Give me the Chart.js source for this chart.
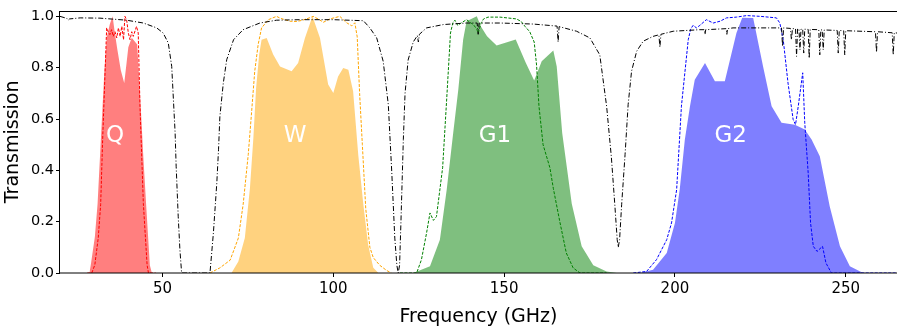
<!DOCTYPE html>
<html>
<head>
<meta charset="utf-8">
<script src="https://cdn.jsdelivr.net/npm/chart.js@4/dist/chart.umd.min.js"></script>
<style>
html,body{margin:0;padding:0;background:#fff;}
#wrap{width:897px;height:328px;}
</style>
</head>
<body>
<div id="wrap"><canvas id="c" width="897" height="328"></canvas></div>
<script>
// ---- data (frequency in GHz, transmission 0..1) ----
const xTicks = [50, 100, 150, 200, 250];
const yTicks = [0, 0.2, 0.4, 0.6, 0.8, 1.0];
const bandNames = ['Q', 'W', 'G1', 'G2'];
const bandLabelFreq = [36.1, 88.8, 147.3, 216.3];
const bandLabelValue = [0.532, 0.532, 0.532, 0.532];

const atmosphere = [
[20,1.0],[22.0,0.992],[22.4,0.985],[22.8,0.99],[25.9,0.994],[31.7,0.993],[39.5,0.985],[44.4,0.974],[48.3,0.955],[50.2,0.935],[51.7,0.896],[52.7,0.805],[53.2,0.675],[53.7,0.545],[54.0,0.416],[54.6,0.221],[55.1,0.09],[55.6,0.0],
[63.9,0.0],[64.9,0.156],[65.9,0.351],[66.4,0.48],[66.8,0.61],[67.8,0.74],[68.8,0.831],[70.8,0.909],[73.6,0.948],[78.5,0.974],[83.4,0.985],[90.2,0.987],[100,0.987],[108.8,0.983],[110.7,0.955],[112.7,0.916],[114.6,0.825],[116.1,0.656],[117.1,0.396],[118.0,0.136],[118.6,0.03],[119.0,0.0],[119.4,0.03],[119.8,0.2],[120.5,0.52],[121.0,0.70],[121.9,0.83],[123.4,0.90],[124.6,0.925],[124.9,0.90],[125.2,0.93],[127.3,0.955],[132.2,0.968],[139.0,0.974],[142.1,0.974],[142.4,0.93],[142.7,0.974],[148.8,0.974],[158.5,0.97],[165.5,0.962],[165.8,0.90],[166.1,0.96],[171.2,0.942],[175.1,0.916],[178.0,0.85],[180.0,0.65],[181.4,0.45],[182.4,0.266],[183.1,0.13],[183.4,0.1],[183.8,0.13],[184.4,0.266],[185.4,0.461],[186.3,0.656],[187.3,0.786],[188.8,0.864],[190.7,0.903],[193.6,0.922],[195.3,0.928],[195.6,0.88],[195.9,0.93],[199.5,0.942],[207.3,0.948],[208.6,0.948],[208.8,0.93],[209.0,0.948],[215.0,0.952],[215.2,0.93],[215.4,0.952],[217.0,0.955],[231.2,0.955],[231.5,0.883],[231.8,0.955],[233.8,0.953],[234.1,0.909],[234.4,0.952],[235.3,0.952],[235.6,0.844],[235.9,0.951],[236.3,0.951],[236.6,0.87],[236.9,0.95],[237.4,0.95],[237.7,0.857],[238.0,0.95],[239.0,0.949],[239.3,0.837],[239.6,0.949],[242.1,0.948],[242.4,0.85],[242.7,0.947],[243.1,0.947],[243.4,0.87],[243.7,0.947],[247.5,0.945],[247.8,0.857],[248.1,0.945],[249.4,0.944],[249.7,0.85],[250.0,0.944],[258.7,0.94],[259.0,0.86],[259.3,0.94],[263.6,0.936],[263.9,0.85],[264.2,0.936],[265,0.935]
];

const qFill = [[28.6,0],[29.0,0.03],[30.2,0.14],[31.0,0.27],[32.0,0.53],[33.0,0.79],[33.7,0.92],[34.6,0.97],[35.4,1.0],[36.0,0.94],[36.8,0.87],[37.8,0.79],[38.8,0.74],[39.5,0.82],[40.0,0.88],[41.0,0.917],[42.6,0.89],[43.6,0.656],[44.4,0.45],[45.2,0.27],[46.3,0.03],[46.9,0]];
const qDash = [[28.0,0],[29.3,0],[30.2,0.032],[31.2,0.137],[31.9,0.266],[32.5,0.526],[33.2,0.786],[33.66,0.955],[34.1,0.94],[34.6,0.929],[35.1,0.948],[35.6,0.922],[36.1,0.94],[36.6,0.916],[37.1,0.955],[37.6,0.922],[38.1,0.961],[38.6,0.909],[39.0,1.0],[39.5,0.987],[40.0,0.935],[40.5,0.909],[41.0,0.94],[41.45,0.922],[42.4,0.961],[42.9,0.935],[43.4,0.656],[44.4,0.27],[45.5,0.03],[45.9,0],[48,0]];

const wFill = [[70.2,0],[72.2,0.045],[74.1,0.136],[75.6,0.331],[76.6,0.526],[77.4,0.72],[78.3,0.851],[79.0,0.909],[80.5,0.916],[82.4,0.851],[84.4,0.805],[87.8,0.786],[89.7,0.818],[91.7,0.916],[93.9,1.0],[96.1,0.916],[98.5,0.734],[100.0,0.701],[101.4,0.766],[102.9,0.799],[104.4,0.792],[105.8,0.708],[107.3,0.461],[108.8,0.266],[110.2,0.11],[111.7,0.02],[113.2,0]];
const wDash = [[63.9,0],[66.8,0.02],[69.8,0.05],[72.2,0.136],[73.6,0.266],[75.1,0.461],[76.1,0.63],[77.0,0.786],[78.0,0.89],[79.0,0.955],[81.0,0.987],[83.4,1.0],[84.4,0.993],[86.3,0.985],[87.3,0.981],[89.3,0.98],[91.0,0.985],[93.2,0.995],[94.1,1.0],[95.5,0.99],[97.1,0.977],[99.0,0.99],[100.5,0.995],[101.9,1.0],[103.9,0.975],[105.4,0.963],[106.3,0.975],[107.0,0.92],[107.7,0.7],[108.5,0.5],[109.5,0.25],[110.7,0.1],[111.7,0.06],[113.6,0.03],[115.6,0.01],[117,0]];

const g1Fill = [[123.4,0],[128.3,0.026],[131.2,0.13],[133.2,0.325],[135.1,0.546],[136.6,0.716],[138.0,0.909],[139.0,0.981],[142.0,1.0],[143.2,0.96],[145.0,0.922],[147.8,0.886],[153.4,0.91],[156.3,0.82],[158.8,0.75],[161.0,0.825],[164.4,0.867],[165.4,0.805],[167.0,0.545],[169.8,0.27],[172.7,0.104],[176.1,0.03],[180.0,0.006],[183,0]];
const g1Dash = [[119.5,0],[124.4,0],[125.8,0.052],[127.3,0.156],[128.3,0.234],[129.3,0.205],[130.2,0.22],[132.0,0.41],[133.2,0.68],[134.3,0.935],[135.0,0.975],[135.6,0.985],[136.4,0.965],[137.5,0.975],[139.0,0.987],[140.2,0.975],[141.0,0.968],[142.0,0.95],[142.4,0.935],[143.3,0.975],[144.0,0.99],[145.3,0.997],[148.8,0.997],[153.6,0.99],[155.0,0.98],[156.1,0.961],[157.5,0.94],[158.8,0.9],[159.5,0.81],[160.2,0.65],[161.4,0.5],[163.4,0.41],[164.4,0.33],[166.3,0.2],[168.2,0.078],[170.2,0.02],[172.2,0],[180,0]];

const g2Fill = [[189.7,0],[193.6,0.013],[197.6,0.078],[200.0,0.195],[201.4,0.325],[202.9,0.52],[204.4,0.65],[205.8,0.753],[208.8,0.818],[211.7,0.747],[214.6,0.747],[218.0,0.935],[219.7,0.995],[222.9,0.994],[225.8,0.805],[228.3,0.65],[231.2,0.585],[235.1,0.578],[238.0,0.559],[240.0,0.52],[242.4,0.455],[245.3,0.26],[248.3,0.104],[251.2,0.026],[255.1,0],[265,0]];
const g2Dash = [[187.8,0],[191.7,0.006],[194.6,0.052],[197.6,0.13],[199.0,0.195],[200.5,0.325],[201.9,0.65],[202.9,0.78],[203.9,0.909],[204.6,0.95],[205.3,0.965],[206.3,0.955],[207.3,0.965],[209.2,0.987],[211.2,0.974],[213.2,0.981],[215.1,0.994],[218.0,0.997],[221.0,1.003],[225.0,1.0],[229.7,0.994],[230.7,0.974],[231.7,0.909],[233.1,0.74],[234.6,0.598],[235.3,0.578],[236.1,0.65],[237.4,0.78],[238.0,0.585],[239.0,0.39],[239.7,0.195],[240.5,0.104],[241.6,0.084],[243.2,0.104],[244.2,0.039],[245.8,0],[265,0]];

// ---- chart ----
const FONT = "'DejaVu Sans', 'Liberation Sans', sans-serif";
const pts = arr => arr.map(p => ({x: p[0], y: p[1]}));

function fillSet(data, color, order) {
  return {data: pts(data), fill: 'origin', backgroundColor: color, borderColor: 'rgba(0,0,0,0)', borderWidth: 0, pointRadius: 0, tension: 0, order: order};
}
function dashSet(data, color, order) {
  return {data: pts(data), fill: false, borderColor: color, borderWidth: 1, borderDash: [3, 1.5], pointRadius: 0, tension: 0, order: order};
}

const datasets = [
  {data: pts(atmosphere), fill: false, borderColor: '#000', borderWidth: 1, borderDash: [5, 2, 1, 2], pointRadius: 0, tension: 0, order: 1},
  dashSet(qDash, '#ff0000', 2),
  dashSet(wDash, '#ffa500', 2),
  dashSet(g1Dash, '#008000', 2),
  dashSet(g2Dash, '#0000ff', 2),
  fillSet(qFill, 'rgba(255,0,0,0.5)', 5),
  fillSet(wFill, 'rgba(255,165,0,0.5)', 5),
  fillSet(g1Fill, 'rgba(0,128,0,0.5)', 5),
  fillSet(g2Fill, 'rgba(0,0,255,0.5)', 5)
];

const framePlugin = {
  id: 'frame',
  afterDatasetsDraw(chart) {
    const ctx = chart.ctx, xs = chart.scales.x, ys = chart.scales.y;
    ctx.save();
    ctx.fillStyle = '#fff';
    ctx.font = '23px ' + FONT;
    ctx.textAlign = 'center';
    ctx.textBaseline = 'middle';
    bandNames.forEach((n, i) => {
      ctx.fillText(n, xs.getPixelForValue(bandLabelFreq[i]), ys.getPixelForValue(bandLabelValue[i]));
    });
    const a = chart.chartArea;
    ctx.strokeStyle = '#000';
    ctx.lineWidth = 1;
    ctx.strokeRect(Math.round(a.left) - 0.5, Math.round(a.top) + 0.5, Math.round(a.right - a.left) + 1, Math.round(a.bottom - a.top) - 0.5);
    ctx.restore();
  }
};

new Chart(document.getElementById('c'), {
  type: 'line',
  data: {datasets: datasets},
  plugins: [framePlugin],
  options: {
    responsive: false,
    animation: false,
    events: [],
    layout: {padding: {top: 10, right: 0, left: 0, bottom: 0}},
    plugins: {legend: {display: false}, tooltip: {enabled: false}},
    scales: {
      x: {
        type: 'linear', min: 20, max: 265,
        afterFit: s => { s.height = 55; },
        afterBuildTicks: s => { s.ticks = xTicks.map(v => ({value: v})); },
        grid: {drawOnChartArea: false, drawTicks: true, tickLength: 4, color: '#000'},
        border: {display: false},
        ticks: {color: '#000', font: {family: FONT, size: 15}, padding: 3, maxRotation: 0, callback: v => String(v)},
        title: {display: true, text: 'Frequency (GHz)', color: '#000', font: {family: FONT, size: 19}, padding: {top: 0, bottom: 0}}
      },
      y: {
        type: 'linear', min: 0, max: 1.022,
        afterFit: s => { s.width = 60; },
        afterBuildTicks: s => { s.ticks = yTicks.map(v => ({value: v})); },
        grid: {drawOnChartArea: false, drawTicks: true, tickLength: 4, color: '#000'},
        border: {display: false},
        ticks: {color: '#000', font: {family: FONT, size: 14.5}, padding: 2, callback: v => v.toFixed(1)},
        title: {display: true, text: 'Transmission', color: '#000', font: {family: FONT, size: 19}, padding: {top: 2, bottom: 0}}
      }
    }
  }
});
</script>
</body>
</html>
